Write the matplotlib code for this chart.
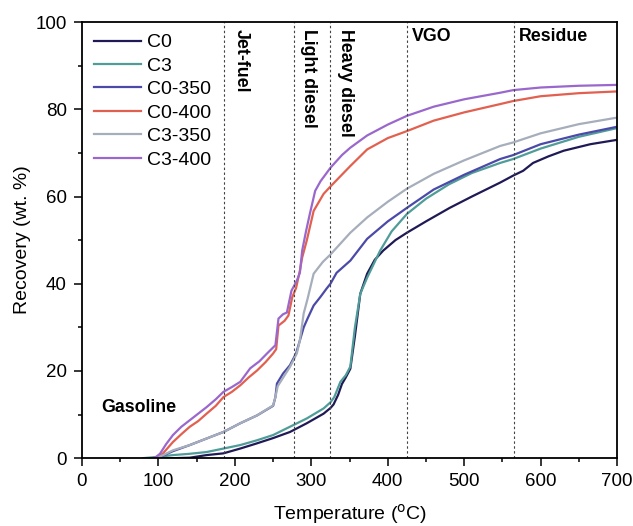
import matplotlib
matplotlib.use('Agg')
import matplotlib.pyplot as plt
from matplotlib.ticker import MultipleLocator

plt.rcParams['font.family'] = ['Liberation Sans', 'DejaVu Sans']

# recovery curves: temperature (C) / recovery (wt. %)
c0_t = [85, 120, 141, 163, 185, 207, 229, 250, 272, 294, 316, 325, 329, 335, 340, 345, 351,
        357, 364, 373, 383, 394, 410, 425, 450, 481, 510, 547, 564, 577, 590, 610, 630, 665, 700]
c0_r = [0, 0, 0.1, 0.7, 1.1, 2.2, 3.4, 4.6, 6.0, 8.0, 10.2, 11.5, 12.3, 14.5, 17, 18.5, 20.5,
        28, 37.7, 42.3, 45.5, 47.6, 50, 51.7, 54.3, 57.4, 60, 63.2, 64.8, 65.9, 67.7, 69.2, 70.5, 72, 73]

c3_t = [80, 100, 119, 141, 163, 185, 207, 229, 250, 272, 294, 316, 325, 330, 338, 345, 351,
        357, 364, 373, 390, 405, 425, 450, 480, 510, 547, 564, 600, 650, 700]
c3_r = [0, 0.3, 0.7, 1.0, 1.4, 2.2, 3.0, 4.1, 5.3, 7.2, 9.1, 11.4, 12.8, 14, 17.5, 19, 21,
        30, 37.7, 41.4, 47.6, 52, 56, 59.5, 62.8, 65.4, 67.7, 68.6, 71, 73.7, 75.7]

c0_350_t = [95, 105, 119, 141, 163, 185, 207, 229, 250, 253, 255, 263, 272, 280, 285, 290, 295,
            303, 312, 320, 325, 333, 351, 373, 400, 425, 460, 500, 547, 564, 600, 650, 700]
c0_350_r = [0, 0.5, 1.6, 3.0, 4.5, 6.0, 8.0, 9.8, 12, 14, 17.1, 19.4, 21.3, 24, 27, 30, 32,
            35, 37, 38.9, 40, 42.5, 45.3, 50.3, 54.3, 57.4, 61.6, 65, 68.6, 69.5, 72, 74.2, 76]

c0_400_t = [95, 100, 106, 119, 130, 141, 152, 163, 175, 185, 196, 207, 218, 229, 240, 250, 254,
            257, 265, 270, 275, 280, 285, 288, 294, 303, 316, 325, 351, 373, 400, 425, 460, 500,
            547, 564, 600, 650, 700]
c0_400_r = [0, 0.3, 1.1, 3.7, 5.5, 7.2, 8.5, 10.2, 12, 14, 15.2, 16.7, 18.5, 20.1, 22, 24, 25,
            30.4, 31.5, 32.7, 36.9, 39, 43, 46, 49.9, 56.7, 60.6, 62.3, 67, 70.8, 73.4, 75, 77.4, 79.3,
            81.2, 81.9, 83, 83.7, 84.1]

c3_350_t = [95, 105, 119, 141, 163, 185, 207, 229, 250, 253, 256, 265, 272, 281, 285, 290, 295,
            303, 315, 325, 351, 373, 400, 425, 460, 500, 547, 564, 600, 650, 700]
c3_350_r = [0, 0.6, 1.8, 3.0, 4.5, 6.0, 8.0, 9.8, 12.1, 14, 16.5, 19, 20.9, 24, 27, 33.2, 36.5,
            42.3, 45, 46.7, 51.7, 55.2, 58.8, 61.8, 65.2, 68.3, 71.6, 72.4, 74.5, 76.6, 78.1]

c3_400_t = [92, 97, 102, 110, 119, 130, 141, 152, 163, 175, 185, 196, 207, 220, 232, 242, 253,
            257, 263, 268, 274, 281, 285, 288, 293, 298, 305, 312, 320, 325, 340, 351, 373, 400,
            425, 460, 500, 547, 564, 600, 650, 700]
c3_400_r = [0, 0.3, 1, 3.2, 5.3, 7.2, 8.7, 10.2, 11.7, 13.5, 15.2, 16.3, 17.5, 20.6, 22.2, 24, 25.9,
            32, 33, 33.4, 38.4, 40.7, 42.5, 47.6, 52, 56, 61.3, 63.5, 65.4, 66.6, 69.5, 71.2, 74, 76.5,
            78.5, 80.6, 82.3, 83.8, 84.4, 85, 85.4, 85.6]

# fraction cut points
cuts = [186, 277, 325, 425, 565]

fig = plt.figure(figsize=(6.33, 5.26), dpi=100)
ax = fig.add_axes([0.1295, 0.129, 0.8455, 0.829])

ax.plot(c0_t, c0_r, color='#1f1a55', lw=1.6, label='C0')
ax.plot(c3_t, c3_r, color='#4f9c98', lw=1.6, label='C3')
ax.plot(c0_350_t, c0_350_r, color='#4b4aa8', lw=1.6, label='C0-350')
ax.plot(c0_400_t, c0_400_r, color='#e2604f', lw=1.6, label='C0-400')
ax.plot(c3_350_t, c3_350_r, color='#a6aebb', lw=1.6, label='C3-350')
ax.plot(c3_400_t, c3_400_r, color='#9a68cc', lw=1.6, label='C3-400')

for c in cuts:
    ax.axvline(c, color='#444444', ls=(0, (2.2, 2.2)), lw=0.8)

# fraction names
kw = dict(fontsize=12.8, fontweight='bold', color='black')
ax.text(197, 98.4, 'Jet-fuel', rotation=270, ha='left', va='top', **kw)
ax.text(285, 98.4, 'Light diesel', rotation=270, ha='left', va='top', **kw)
ax.text(334, 98.4, 'Heavy diesel', rotation=270, ha='left', va='top', **kw)
ax.text(432, 96.8, 'VGO', ha='left', va='center', **kw)
ax.text(572, 96.8, 'Residue', ha='left', va='center', **kw)
ax.text(25, 11.5, 'Gasoline', ha='left', va='center', **kw)

ax.set_xlim(0, 700)
ax.set_ylim(0, 100)
ax.xaxis.set_major_locator(MultipleLocator(100))
ax.xaxis.set_minor_locator(MultipleLocator(50))
ax.yaxis.set_major_locator(MultipleLocator(20))
ax.yaxis.set_minor_locator(MultipleLocator(10))
ax.tick_params(which='major', direction='out', length=6, width=1.1, labelsize=13.5, pad=5)
ax.tick_params(which='minor', direction='out', length=3, width=1.1)
for s in ax.spines.values():
    s.set_linewidth(1.3)

ax.set_xlabel('Temperature ($^{\\mathrm{o}}$C)', fontsize=14, labelpad=8)
ax.set_ylabel('Recovery (wt. %)', fontsize=14, labelpad=3)

ax.legend(loc='upper left', frameon=False, fontsize=14, handlelength=2.45,
          labelspacing=0.3, borderaxespad=0.2, handletextpad=0.3)

fig.savefig('out.png', dpi=100)
